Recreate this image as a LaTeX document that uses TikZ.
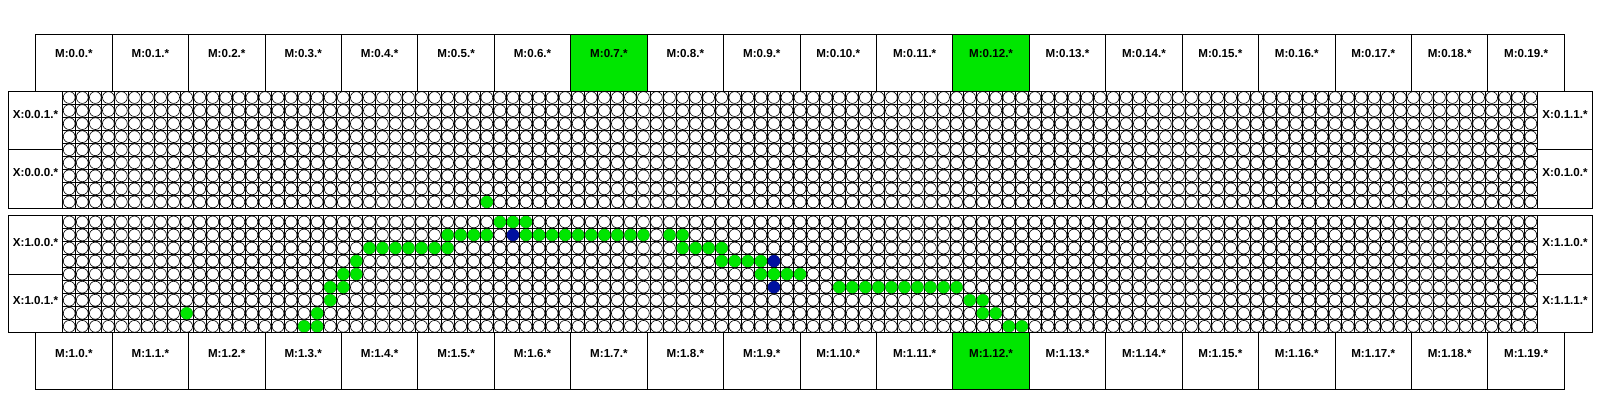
\documentclass[tikz,border=0pt]{standalone}
\usepackage{fontspec}
\setmainfont{Liberation Sans}
\usetikzlibrary{calc}
\definecolor{dotgreen}{RGB}{0,230,0}
\definecolor{dotblue}{RGB}{0,16,160}
\begin{document}
\begin{tikzpicture}[x=1pt,y=-1pt,
  box/.style={draw=black,line width=0.9pt,inner sep=0pt,outer sep=0pt,anchor=north west},
  lbl/.style={font=\bfseries\fontsize{11.6}{13}\selectfont,anchor=base,inner sep=0pt},
  gridl/.style={line width=0.9pt,black},
  cellc/.style={fill=white,draw=black,line width=0.6pt},
  gdot/.style={fill=dotgreen},
  bdot/.style={fill=dotblue}]
\useasboundingbox (0,0) rectangle (1600,400);
% grids of cells
\foreach \yo in {91,215.4}{
  \foreach \c in {0,...,113} \draw[gridl] ({62.7+\c*13.05},\yo) -- ++(0,117.45);
  \foreach \r in {0,...,9} \draw[gridl] (62.7,{\yo+\r*13.05}) -- ++(1474.65,0);
  \foreach \r in {0,...,8} \foreach \c in {0,...,112}
    \draw[cellc] ({62.7+(\c+0.5)*13.05},{\yo+(\r+0.5)*13.05}) circle (5.9);
}
% coloured cells, top block
\fill[gdot] ({62.7+32.5*13.05},{91+8.5*13.05}) circle (6.1);
% coloured cells, bottom block
\foreach \r/\a/\b in {0/33/35, 1/29/32, 1/35/44, 1/46/47, 2/23/29, 2/47/50, 3/22/22, 3/50/53,
  4/21/22, 4/53/56, 5/20/21, 5/59/68, 6/20/20, 6/69/70, 7/9/9, 7/19/19, 7/70/71, 8/18/19, 8/72/73}
  \foreach \c in {\a,...,\b}
    \fill[gdot] ({62.7+(\c+0.5)*13.05},{215.4+(\r+0.5)*13.05}) circle (6.1);
\foreach \r/\c in {1/34, 3/54, 5/54}
  \fill[bdot] ({62.7+(\c+0.5)*13.05},{215.4+(\r+0.5)*13.05}) circle (6.1);
% block frames
\node[box,minimum width=1584.4pt,minimum height=117.45pt] (blk0) at (8.3,91) {};
\node[box,minimum width=1584.4pt,minimum height=117.45pt] (blk1) at (8.3,215.4) {};
% X boxes
\foreach \b/\yo/\ta/\tb/\oa/\ob in {0/91/1/0/23/23, 1/215.4/0/1/27/26}{
  \node[box,minimum width=54.4pt,minimum height=58.725pt] (xl\b a) at (8.3,\yo) {};
  \node[box,minimum width=54.4pt,minimum height=58.725pt] (xl\b b) at (8.3,{\yo+58.725}) {};
  \node[box,minimum width=55.35pt,minimum height=58.725pt] (xr\b a) at (1537.35,\yo) {};
  \node[box,minimum width=55.35pt,minimum height=58.725pt] (xr\b b) at (1537.35,{\yo+58.725}) {};
  \node[lbl] (txl\b a) at ($(xl\b a.north)+(0,\oa+4)$) {X:\b.0.\ta.*};
  \node[lbl] (txl\b b) at ($(xl\b b.north)+(0,\ob+4)$) {X:\b.0.\tb.*};
  \node[lbl] (txr\b a) at ($(xr\b a.north)+(0,\oa+4)$) {X:\b.1.\ta.*};
  \node[lbl] (txr\b b) at ($(xr\b b.north)+(0,\ob+4)$) {X:\b.1.\tb.*};
}
% M boxes
\foreach \i in {0,...,19}{
  \def\ftop{white}\def\fbot{white}
  \ifnum\i=7 \def\ftop{dotgreen}\fi
  \ifnum\i=12 \def\ftop{dotgreen}\def\fbot{dotgreen}\fi
  \node[box,fill=\ftop,minimum width=76.43pt,minimum height=56.7pt] (mt\i) at ({35.7+\i*76.43},34.3) {};
  \node[lbl] (tmt\i) at ($(mt\i.north)+(0,23.2)$) {M:0.\i.*};
  \node[box,fill=\fbot,minimum width=76.43pt,minimum height=57pt] (mb\i) at ({35.7+\i*76.43},332.85) {};
  \node[lbl] (tmb\i) at ($(mb\i.north)+(0,24.5)$) {M:1.\i.*};
}
\end{tikzpicture}
\end{document}
